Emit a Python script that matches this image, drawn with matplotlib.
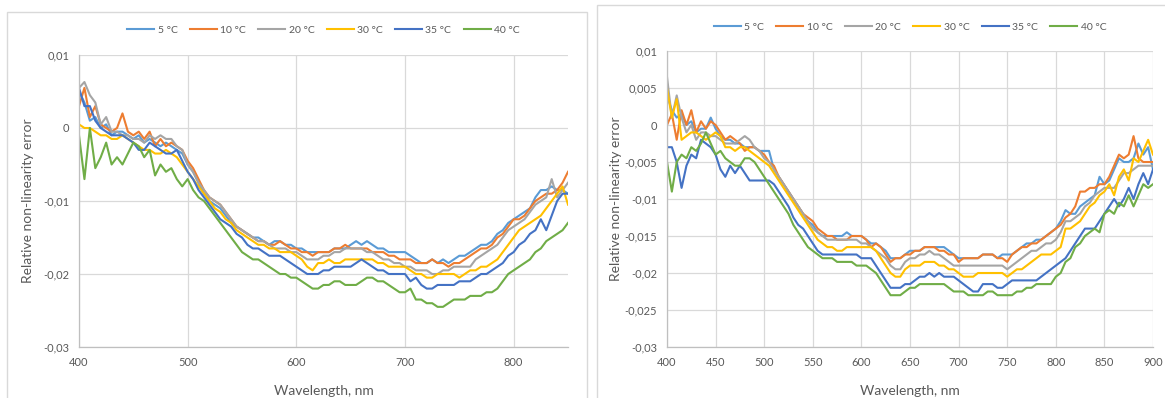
import numpy as np
import matplotlib
matplotlib.use("Agg")
import matplotlib.pyplot as plt
from matplotlib.patches import Rectangle

plt.rcParams['font.family'] = ['Lato', 'DejaVu Sans']

series_names = ["5 °C", "10 °C", "20 °C", "30 °C", "35 °C", "40 °C"]
series_colors = ["#5B9BD5", "#ED7D31", "#A5A5A5", "#FFC000", "#4472C4", "#70AD47"]

# left chart, wavelength 400..850 nm every 5 nm, values in units of 1e-3
wl_left = np.arange(400, 851, 5)

left_5 = [5.0, 3.5, 1.0, 1.5, 0.0, 0.5, -1.0, -0.5, -0.5, -1.0,
          -1.5, -1.0, -2.0, -1.5, -2.0, -2.5, -2.0, -2.5, -3.0, -3.5,
          -5.0, -6.0, -7.5, -9.0, -10.0, -10.5, -11.0, -12.0, -13.0, -13.5,
          -14.0, -14.5, -15.0, -15.0, -15.5, -16.0, -15.5, -15.5, -16.0, -16.0,
          -16.5, -16.5, -17.0, -17.0, -17.0, -17.0, -17.0, -16.5, -16.5, -16.5,
          -16.0, -15.5, -16.0, -15.5, -16.0, -16.5, -16.5, -17.0, -17.0, -17.0,
          -17.0, -17.5, -18.0, -18.5, -18.5, -18.0, -18.5, -18.0, -18.5, -18.0,
          -17.5, -17.5, -17.0, -16.5, -16.0, -16.0, -15.5, -14.5, -14.0, -13.0,
          -12.5, -12.0, -11.5, -11.0, -9.5, -8.5, -8.5, -8.0, -8.5, -8.5,
          -9.0]
left_10 = [3.0, 5.5, 1.5, 3.0, 0.5, 0.0, -0.5, 0.0, 2.0, -0.5,
           -1.0, -0.5, -1.5, -0.5, -2.5, -1.5, -2.5, -2.0, -2.5, -3.0,
           -4.5, -5.5, -7.0, -8.5, -9.5, -10.0, -10.5, -11.5, -12.5, -13.5,
           -14.0, -14.5, -15.0, -15.5, -15.5, -16.0, -16.0, -15.5, -16.0, -16.5,
           -16.5, -17.0, -17.0, -17.5, -17.0, -17.0, -17.0, -16.5, -16.5, -16.0,
           -16.5, -16.5, -16.5, -16.5, -17.0, -17.0, -17.0, -17.5, -17.5, -18.0,
           -18.0, -18.0, -18.5, -18.5, -18.5, -18.0, -18.5, -18.5, -19.0, -18.5,
           -18.5, -18.0, -17.5, -17.0, -16.5, -16.5, -16.0, -15.0, -14.5, -13.5,
           -12.5, -12.5, -12.0, -11.0, -10.0, -9.5, -9.0, -9.0, -8.5, -7.5,
           -6.0]
left_20 = [5.5, 6.3, 4.5, 3.5, 0.5, 1.5, -0.5, -0.5, -1.0, -1.0,
           -1.5, -1.5, -2.0, -1.0, -1.5, -1.0, -1.5, -1.5, -2.5, -3.0,
           -5.0, -6.0, -7.5, -8.5, -9.5, -10.0, -10.5, -11.5, -12.5, -13.5,
           -14.0, -14.5, -15.0, -15.5, -15.5, -16.0, -16.5, -16.5, -16.5, -17.0,
           -17.0, -17.5, -18.0, -18.0, -18.0, -17.5, -17.5, -17.0, -17.0, -16.5,
           -16.5, -16.5, -16.5, -17.0, -17.0, -17.5, -18.0, -18.0, -18.5, -18.5,
           -19.0, -19.0, -19.5, -19.5, -19.5, -20.0, -20.0, -19.5, -19.5, -19.0,
           -19.0, -19.0, -19.0, -18.0, -17.5, -17.0, -16.5, -16.0, -15.0, -14.0,
           -13.5, -13.0, -12.5, -11.5, -10.5, -10.0, -9.5, -7.0, -9.5, -8.5,
           -7.5]
left_30 = [0.5, 0.0, 0.0, -0.5, -1.0, -1.0, -1.5, -1.5, -1.0, -1.5,
           -2.0, -2.5, -3.0, -3.0, -3.5, -3.5, -3.0, -3.5, -4.0, -5.0,
           -6.0, -7.0, -8.0, -9.0, -10.0, -11.0, -11.5, -12.5, -13.0, -14.0,
           -14.5, -15.0, -15.5, -16.0, -16.0, -16.5, -16.5, -17.0, -17.0, -17.0,
           -17.5, -18.0, -19.0, -19.5, -18.5, -18.5, -18.0, -18.5, -18.5, -18.0,
           -18.0, -18.0, -18.0, -18.0, -18.0, -18.5, -18.5, -19.0, -19.0, -19.0,
           -19.0, -19.5, -20.0, -20.0, -20.5, -20.5, -20.0, -20.0, -20.0, -20.0,
           -20.5, -20.0, -19.5, -19.5, -19.0, -19.0, -18.5, -18.0, -17.0, -16.0,
           -15.0, -14.0, -13.5, -13.0, -12.5, -12.0, -11.0, -10.0, -9.0, -8.0,
           -10.5]
left_35 = [5.5, 3.0, 3.0, 1.0, 0.0, -0.5, -1.0, -1.0, -1.0, -1.5,
           -2.0, -3.0, -3.0, -2.0, -2.5, -3.0, -3.5, -3.5, -3.0, -4.5,
           -6.0, -7.0, -8.5, -9.5, -10.5, -11.5, -12.5, -13.0, -13.5, -14.5,
           -15.0, -16.0, -16.5, -16.5, -17.0, -17.5, -17.5, -17.5, -18.0, -18.5,
           -19.0, -19.5, -20.0, -20.0, -20.0, -19.5, -19.5, -19.0, -19.0, -19.0,
           -19.0, -18.5, -18.0, -18.5, -19.0, -19.5, -19.5, -20.0, -20.0, -20.0,
           -20.0, -21.0, -20.5, -21.5, -22.0, -22.0, -21.5, -21.5, -21.5, -21.5,
           -21.0, -21.0, -21.0, -20.5, -20.0, -20.0, -19.5, -19.0, -18.5, -17.5,
           -17.0, -16.0, -15.5, -14.5, -14.0, -12.5, -14.0, -12.0, -10.0, -9.0,
           -9.0]
left_40 = [-1.0, -7.0, 0.0, -5.5, -4.0, -2.0, -5.0, -4.0, -5.0, -3.5,
           -2.0, -2.5, -4.0, -3.0, -6.5, -5.0, -6.0, -5.5, -7.0, -8.0,
           -7.0, -8.5, -9.5, -10.0, -11.0, -12.0, -13.0, -14.0, -15.0, -16.0,
           -17.0, -17.5, -18.0, -18.0, -18.5, -19.0, -19.5, -20.0, -20.0, -20.5,
           -20.5, -21.0, -21.5, -22.0, -22.0, -21.5, -21.5, -21.0, -21.0, -21.5,
           -21.5, -21.5, -21.0, -20.5, -20.5, -21.0, -21.0, -21.5, -22.0, -22.5,
           -22.5, -22.0, -23.5, -23.5, -24.0, -24.0, -24.5, -24.5, -24.0, -23.5,
           -23.5, -23.5, -23.0, -23.0, -23.0, -22.5, -22.5, -22.0, -21.0, -20.0,
           -19.5, -19.0, -18.5, -18.0, -17.0, -16.5, -15.5, -15.0, -14.5, -14.0,
           -13.0]

# right chart, wavelength 400..900 nm every 5 nm, values in units of 1e-3
wl_right = np.arange(400, 901, 5)

right_5 = [4.0, 2.0, 1.0, 1.5, 0.0, 0.5, -1.0, -0.5, -0.5, 1.0,
           -0.5, -1.5, -2.0, -2.0, -2.5, -2.5, -3.0, -3.0, -3.0, -3.5,
           -3.5, -3.5, -6.0, -7.0, -8.0, -9.0, -10.0, -11.0, -12.0, -13.0,
           -13.5, -14.5, -15.0, -15.0, -15.0, -15.0, -15.0, -14.5, -15.0, -15.0,
           -15.0, -15.5, -16.0, -16.0, -16.5, -17.0, -18.0, -18.0, -18.0, -17.5,
           -17.0, -17.0, -17.0, -16.5, -16.5, -16.5, -16.5, -16.5, -17.0, -17.5,
           -18.0, -18.0, -18.0, -18.0, -18.0, -17.5, -17.5, -17.5, -18.0, -17.5,
           -17.5, -17.5, -17.0, -16.5, -16.0, -16.0, -15.5, -15.5, -15.0, -14.5,
           -14.0, -13.0, -11.5, -12.0, -12.0, -11.0, -10.5, -10.0, -9.5, -7.0,
           -8.0, -7.5, -6.0, -4.5, -5.0, -5.0, -4.5, -2.5, -4.0, -3.0,
           -6.0]
right_10 = [0.0, 1.5, -2.0, 2.0, 0.0, 2.0, -1.0, 0.5, -0.5, 0.5,
            0.0, -1.0, -2.0, -1.5, -2.0, -2.5, -3.5, -3.0, -3.0, -3.5,
            -4.0, -5.0, -5.5, -7.0, -8.0, -9.0, -10.0, -11.0, -12.0, -12.5,
            -13.0, -14.0, -14.5, -15.0, -15.0, -15.5, -15.5, -15.5, -15.0, -15.0,
            -15.0, -15.5, -16.5, -16.0, -16.5, -17.5, -18.5, -18.0, -18.0, -17.5,
            -17.5, -17.0, -17.0, -16.5, -16.5, -16.5, -17.0, -17.0, -17.5, -17.5,
            -18.5, -18.0, -18.0, -18.0, -18.0, -17.5, -17.5, -17.5, -18.0, -18.0,
            -18.5, -17.5, -17.0, -16.5, -16.5, -16.0, -16.0, -15.5, -15.0, -14.5,
            -14.0, -13.5, -12.5, -12.0, -11.0, -9.0, -9.0, -8.5, -8.5, -8.0,
            -8.0, -7.0, -5.5, -4.0, -4.5, -4.0, -1.5, -4.5, -5.0, -5.0,
            -5.0]
right_20 = [6.5, 1.0, 4.0, 1.0, -1.0, 0.0, -2.0, -1.0, -1.0, -1.5,
            -1.5, -2.0, -2.5, -2.5, -2.5, -2.0, -1.5, -2.0, -3.0, -3.5,
            -4.5, -5.0, -6.0, -7.0, -8.0, -9.0, -10.0, -11.0, -12.0, -13.0,
            -14.0, -14.5, -15.0, -15.5, -15.5, -15.5, -15.5, -15.5, -15.5, -15.5,
            -16.0, -16.0, -16.5, -17.0, -17.5, -18.0, -19.0, -19.5, -19.5, -18.5,
            -18.0, -18.0, -17.5, -17.5, -17.0, -17.5, -17.5, -18.0, -18.5, -19.0,
            -19.0, -19.0, -19.0, -19.0, -19.0, -19.0, -19.0, -19.0, -19.0, -19.0,
            -19.5, -19.0, -18.5, -18.0, -17.5, -17.0, -17.0, -16.5, -16.0, -16.0,
            -15.5, -14.5, -13.0, -13.0, -12.5, -12.0, -11.0, -10.5, -9.5, -9.0,
            -8.5, -8.5, -8.5, -7.5, -6.5, -6.5, -6.0, -5.5, -5.5, -5.5,
            -5.5]
right_30 = [5.0, 1.0, 3.5, -2.0, -1.5, -1.0, -1.0, -1.5, -2.0, -1.5,
            -1.0, -1.5, -3.0, -3.0, -3.5, -3.0, -3.0, -3.5, -4.0, -4.5,
            -5.0, -5.5, -6.5, -7.5, -8.5, -9.5, -10.5, -11.5, -12.5, -13.5,
            -14.5, -15.5, -16.0, -16.5, -16.5, -17.0, -17.0, -16.5, -16.5, -16.5,
            -16.5, -16.5, -16.5, -17.0, -18.0, -19.0, -20.0, -20.5, -20.5, -19.5,
            -19.0, -19.0, -19.0, -18.5, -18.5, -18.5, -19.0, -19.0, -19.5, -19.5,
            -20.0, -20.5, -20.5, -20.5, -20.0, -20.0, -20.0, -20.0, -20.0, -20.0,
            -20.5, -20.0, -19.5, -19.5, -19.0, -18.5, -18.0, -17.5, -17.5, -17.5,
            -17.0, -16.5, -14.0, -14.0, -13.5, -13.0, -12.0, -11.0, -10.5, -9.5,
            -9.0, -8.0, -9.5, -7.0, -6.0, -7.5, -4.5, -5.0, -3.5, -2.0,
            -4.0]
right_35 = [-3.0, -3.0, -5.0, -8.5, -5.5, -4.0, -4.5, -2.0, -2.5, -3.0,
            -4.0, -6.0, -7.0, -5.5, -6.5, -5.5, -6.5, -7.5, -7.5, -7.5,
            -7.5, -7.5, -8.0, -9.0, -10.0, -11.0, -12.5, -13.5, -14.0, -15.0,
            -16.0, -17.0, -17.5, -17.5, -17.5, -17.5, -17.5, -17.5, -17.5, -17.5,
            -18.0, -18.0, -18.0, -19.0, -20.0, -21.0, -22.0, -22.0, -22.0, -21.5,
            -21.5, -21.0, -20.5, -20.5, -20.0, -20.5, -20.0, -20.5, -20.5, -20.5,
            -21.0, -21.5, -22.0, -22.5, -22.5, -21.5, -21.5, -21.5, -22.0, -22.0,
            -21.5, -21.0, -21.0, -21.0, -21.0, -21.0, -21.0, -20.5, -20.0, -19.5,
            -19.0, -18.5, -18.0, -17.0, -16.0, -15.0, -14.0, -14.0, -14.0, -13.0,
            -12.0, -11.0, -10.0, -11.0, -10.0, -8.5, -10.0, -8.0, -6.5, -8.0,
            -6.0]
right_40 = [-5.0, -9.0, -5.0, -4.0, -4.5, -3.0, -3.5, -2.5, -1.0, -2.5,
            -4.0, -3.5, -4.5, -5.0, -5.5, -5.5, -4.5, -4.5, -5.0, -6.0,
            -7.0, -8.0, -9.0, -10.0, -11.0, -12.0, -13.5, -14.5, -15.5, -16.5,
            -17.0, -17.5, -18.0, -18.0, -18.0, -18.5, -18.5, -18.5, -18.5, -19.0,
            -19.0, -19.0, -19.5, -20.0, -21.0, -22.0, -23.0, -23.0, -23.0, -22.5,
            -22.0, -22.0, -21.5, -21.5, -21.5, -21.5, -21.5, -21.5, -22.0, -22.5,
            -22.5, -22.5, -23.0, -23.0, -23.0, -23.0, -22.5, -22.5, -23.0, -23.0,
            -23.0, -23.0, -22.5, -22.5, -22.0, -22.0, -21.5, -21.5, -21.5, -21.5,
            -20.5, -20.0, -18.5, -18.0, -16.5, -16.0, -15.0, -14.5, -14.0, -14.5,
            -12.0, -11.5, -12.0, -10.5, -11.0, -9.5, -11.0, -9.5, -8.0, -8.5,
            -8.0]

left_xticks = [400, 500, 600, 700, 800]
left_yticks = [0.01, 0.0, -0.01, -0.02, -0.03]
left_ylabels = ["0,01", "0", "-0,01", "-0,02", "-0,03"]

right_xticks = [400, 450, 500, 550, 600, 650, 700, 750, 800, 850, 900]
right_yticks = [0.01, 0.005, 0.0, -0.005, -0.01, -0.015, -0.02, -0.025, -0.03]
right_ylabels = ["0,01", "0,005", "0", "-0,005", "-0,01", "-0,015", "-0,02",
                 "-0,025", "-0,03"]

W, H = 1165, 398
fig = plt.figure(figsize=(W / 100, H / 100), dpi=100)

# chart frames like the excel chart areas
fig.patches.append(Rectangle((7 / W, -0.01), 580 / W, 386 / H + 0.01,
                             transform=fig.transFigure, fill=False,
                             edgecolor="#d9d9d9", linewidth=1))
fig.patches.append(Rectangle((597 / W, -0.01), 570 / W, 393 / H + 0.01,
                             transform=fig.transFigure, fill=False,
                             edgecolor="#d9d9d9", linewidth=1))


def draw_panel(rect, wl, data, xlim, xticks, yticks, ylabels, leg_y):
    ax = fig.add_axes(rect)
    for vals, name, col in zip(data, series_names, series_colors):
        ax.plot(wl, np.array(vals) * 1e-3, color=col, linewidth=1.5, label=name)
    ax.set_xlim(*xlim)
    ax.set_ylim(-0.03, 0.01)
    ax.set_xticks(xticks)
    ax.set_yticks(yticks)
    ax.set_yticklabels(ylabels)
    ax.grid(True, color="#d9d9d9", linewidth=0.9)
    ax.set_axisbelow(True)
    for s in ["top", "right"]:
        ax.spines[s].set_visible(False)
    for s in ["left", "bottom"]:
        ax.spines[s].set_color("#bfbfbf")
        ax.spines[s].set_linewidth(0.9)
    ax.tick_params(length=0, labelsize=8, colors="#595959", pad=7)
    ax.set_xlabel("Wavelength, nm", fontsize=10, color="#595959")
    ax.set_ylabel("Relative non-linearity error", fontsize=10, color="#595959")
    ax.xaxis.set_label_coords(0.5, -0.13)
    ax.yaxis.set_label_coords(-0.093, 0.5)
    ax.legend(loc="center", bbox_to_anchor=(rect[0] + rect[2] / 2, leg_y),
              bbox_transform=fig.transFigure, ncol=6, frameon=False,
              fontsize=7.5, handlelength=2.6, handletextpad=0.3,
              columnspacing=1.2, labelcolor="#595959")
    return ax


draw_panel([79 / W, 1 - 347 / H, 489 / W, 292 / H], wl_left,
           [left_5, left_10, left_20, left_30, left_35, left_40],
           (400, 850), left_xticks, left_yticks, left_ylabels, 1 - 30 / H)

draw_panel([667 / W, 1 - 347 / H, 486 / W, 296 / H], wl_right,
           [right_5, right_10, right_20, right_30, right_35, right_40],
           (400, 900), right_xticks, right_yticks, right_ylabels, 1 - 27 / H)

fig.savefig("out.png", dpi=100)
